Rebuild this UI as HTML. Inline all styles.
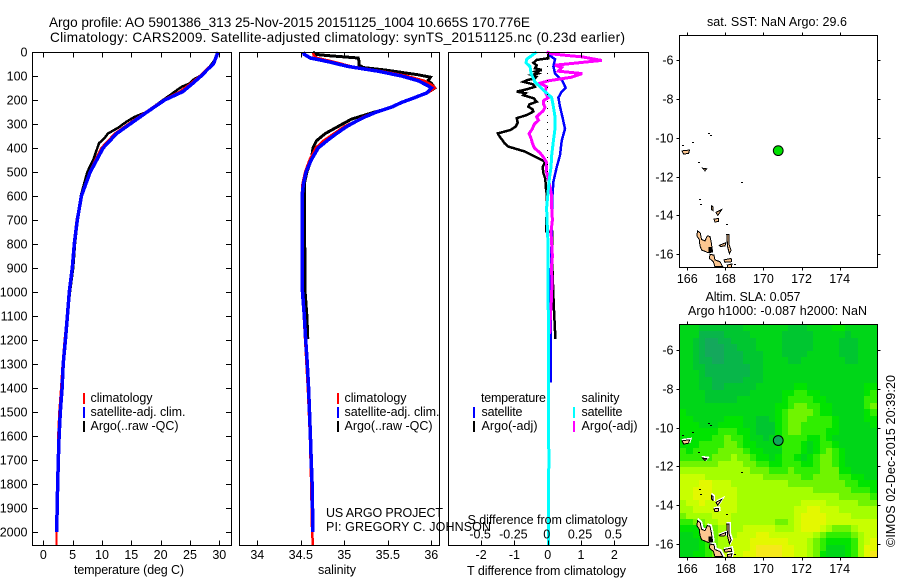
<!DOCTYPE html>
<html>
<head>
<meta charset="utf-8">
<style>
html,body{margin:0;padding:0;background:#fff;width:900px;height:580px;overflow:hidden}
svg{display:block}
text{font-family:"Liberation Sans",sans-serif;font-size:12.5px;fill:#000}
.t{font-size:13.6px}
</style>
</head>
<body>
<svg id="fig" xmlns="http://www.w3.org/2000/svg" width="900" height="580" viewBox="0 0 900 580">
  <text class="t" x="49" y="27" textLength="481" lengthAdjust="spacing">Argo profile: AO 5901386_313 25-Nov-2015 20151125_1004 10.665S 170.776E</text>
  <text class="t" x="50" y="42" textLength="575" lengthAdjust="spacing">Climatology: CARS2009. Satellite-adjusted climatology: synTS_20151125.nc (0.23d earlier)</text>

  <g id="heat"></g>
  <g id="series"></g>
  <g id="axes"></g>
  <g id="islands"></g>

  <text x="74" y="574" textLength="110" lengthAdjust="spacing">temperature (deg C)</text>
  <text x="318" y="574" textLength="38" lengthAdjust="spacing">salinity</text>
  <text x="467" y="575" textLength="159" lengthAdjust="spacing">T difference from climatology</text>
  <text x="467.5" y="524" textLength="160" lengthAdjust="spacing">S difference from climatology</text>

  <g>
    <rect x="83" y="393" width="2" height="11" fill="#f00"/>
    <rect x="83" y="407" width="2" height="11" fill="#00f"/>
    <rect x="83" y="421" width="2" height="11" fill="#000"/>
    <text x="90.5" y="402" textLength="62" lengthAdjust="spacing">climatology</text>
    <text x="90.5" y="416" textLength="95" lengthAdjust="spacing">satellite-adj. clim.</text>
    <text x="90.5" y="430" textLength="88" lengthAdjust="spacing">Argo(..raw -QC)</text>
  </g>
  <g>
    <rect x="337" y="393" width="2" height="11" fill="#f00"/>
    <rect x="337" y="407" width="2" height="11" fill="#00f"/>
    <rect x="337" y="421" width="2" height="11" fill="#000"/>
    <text x="344.5" y="402" textLength="62" lengthAdjust="spacing">climatology</text>
    <text x="344.5" y="416" textLength="95" lengthAdjust="spacing">satellite-adj. clim.</text>
    <text x="344.5" y="430" textLength="88" lengthAdjust="spacing">Argo(..raw -QC)</text>
  </g>
  <g>
    <text x="481" y="402" textLength="65" lengthAdjust="spacing">temperature</text>
    <text x="581.5" y="402" textLength="38" lengthAdjust="spacing">salinity</text>
    <rect x="473" y="407" width="2" height="11" fill="#00f"/>
    <rect x="473" y="421" width="2" height="11" fill="#000"/>
    <rect x="573" y="407" width="2" height="11" fill="#0ff"/>
    <rect x="573" y="421" width="2" height="11" fill="#f0f"/>
    <text x="481.5" y="416" textLength="41" lengthAdjust="spacing">satellite</text>
    <text x="481.5" y="430" textLength="56" lengthAdjust="spacing">Argo(-adj)</text>
    <text x="581.5" y="416" textLength="41" lengthAdjust="spacing">satellite</text>
    <text x="581.5" y="430" textLength="56" lengthAdjust="spacing">Argo(-adj)</text>
  </g>

  <text x="326" y="517" textLength="117" lengthAdjust="spacing">US ARGO PROJECT</text>
  <text x="326" y="531" textLength="165" lengthAdjust="spacing">PI: GREGORY C. JOHNSON</text>

  <text x="707" y="26" textLength="140" lengthAdjust="spacing">sat. SST: NaN Argo: 29.6</text>
  <text x="705.5" y="301" textLength="95" lengthAdjust="spacing">Altim. SLA: 0.057</text>
  <text x="688" y="315" textLength="179" lengthAdjust="spacing">Argo h1000: -0.087 h2000: NaN</text>
  <text transform="translate(895,547) rotate(-90)" textLength="172" lengthAdjust="spacing">©IMOS 02-Dec-2015 20:39:20</text>
</svg>

<script>
// ---- chart data ----
const depthTicks = [0,100,200,300,400,500,600,700,800,900,1000,1100,1200,1300,1400,1500,1600,1700,1800,1900,2000];
const tempTicks = [0,5,10,15,20,25,30];
const salTicks = [34,34.5,35,35.5,36];
const tDiffTicks = [-2,-1,0,1,2];
const sDiffTicks = [-0.5,-0.25,0,0.25,0.5];
const sDiffTickLabels = ['-0.5','-0.25','0','0.25','0.5'];
const lonTicks = [166,168,170,172,174];
const latTicks = [-6,-8,-10,-12,-14,-16];

const tempArgoDepth = [0,30,60,80,100,115,130,145,160,180,200,225,250,270,290,315,340,360,380,415,450,500,600,700,800,900,1000,1100,1195];
const tempArgo = [29.7,29.3,28.4,27.6,26.7,25.6,25,23.6,22.7,21.6,20.4,19,17.6,15.6,14.2,12.8,11,10.4,9.5,9,8.5,7.5,6.4,5.85,5.4,5.1,4.55,4.1,3.7];
const tempClimDepth = [0,50,70,100,130,165,200,250,300,340,400,450,500,600,700,800,900,1000,1100,1200,1300,1400,1500,1600,1700,1800,1900,2000,2054];
const tempClim = [29.7,28.9,27.9,26.7,25.2,23.3,20.5,17.5,14.5,12.2,9.9,8.9,7.9,6.45,5.7,5.2,4.85,4.4,4.05,3.65,3.3,3.05,2.75,2.55,2.5,2.4,2.3,2.25,2.25];
const tempSatDepth = [0,50,70,100,130,165,200,250,300,340,400,450,500,600,700,800,900,1000,1100,1200,1300,1400,1500,1600,1700,1800,1900,2000];
const tempSat = [29.8,29,28.1,26.9,25.5,23.8,20.7,17.7,14.8,12.5,10.2,9.1,8,6.5,5.8,5.28,4.95,4.44,4.1,3.76,3.4,3.2,2.9,2.7,2.55,2.45,2.35,2.3];

const salArgoDepth = [0,10,15,25,40,55,65,75,85,95,105,120,130,150,160,170,190,210,230,250,280,310,340,370,400,450,500,550,600,700,800,900,1000,1100,1195];
const salArgo = [34.64,34.67,34.81,35.16,35.17,35.17,35.22,35.47,35.66,35.85,35.99,35.96,36,36.04,36,35.95,35.81,35.66,35.55,35.35,35.08,34.93,34.78,34.68,34.64,34.62,34.57,34.54,34.54,34.545,34.545,34.55,34.55,34.57,34.58];
const salClimDepth = [0,15,25,40,60,80,100,120,140,150,170,190,210,230,250,270,290,310,340,370,400,450,500,550,600,800,1000,1200,1400,1600,1800,2000,2054];
const salClim = [34.64,34.65,34.69,34.87,35.08,35.43,35.72,35.92,36.02,36.04,35.96,35.81,35.66,35.53,35.36,35.22,35.12,35,34.88,34.76,34.67,34.6,34.55,34.52,34.51,34.51,34.52,34.55,34.58,34.605,34.62,34.63,34.64];
const salSatDepth = [0,10,25,40,60,80,100,120,140,150,170,190,210,230,250,270,290,310,340,370,400,450,500,550,600,800,1000,1100,1200,1300,1400,1500,1600,1700,1800,1900,2000];
const salSat = [34.53,34.54,34.61,34.81,35.04,35.39,35.66,35.85,35.96,36,35.95,35.81,35.66,35.54,35.37,35.24,35.13,35.03,34.91,34.8,34.7,34.62,34.56,34.53,34.515,34.515,34.52,34.54,34.556,34.575,34.59,34.6,34.61,34.62,34.63,34.635,34.64];

const tDiffArgoDepth = [0,12,26,33,45,56,68,75,82,89,96,103,110,117,124,134,145,155,165,172,180,193,207,218,228,238,248,262,276,294,311,325,339,353,367,380,394,415,436,457,480,505,530,561,590,748,749,900,1050,1195];
const tDiffArgo = [0.02,0.02,0.02,-0.33,-0.43,-0.33,-0.38,-0.18,-0.38,-0.28,-0.48,-0.34,-0.38,-0.62,-0.73,-0.45,-0.38,-0.62,-0.93,-0.66,-0.73,-0.42,-0.33,-0.55,-0.58,-0.46,-0.43,-0.62,-0.93,-0.9,-0.96,-1.12,-1.5,-1.44,-1.36,-1.3,-1.18,-0.68,-0.38,-0.08,-0.15,-0.13,-0.07,-0.06,-0.03,-0.04,0.14,0.14,0.18,0.23];
const tDiffSatDepth = [0,15,30,60,90,120,150,165,190,228,270,320,370,430,480,540,600,650,900,1180,1377];
const tDiffSat = [0.02,0.07,0.22,0.17,0.22,0.44,0.54,0.42,0.32,0.37,0.44,0.52,0.42,0.37,0.27,0.17,0.14,0.14,0.1,0.09,0.09];
const sDiffSatDepth = [0,15,30,45,60,90,125,165,190,228,270,320,370,430,480,540,600,650,800,1000,1400,1700,2054];
const sDiffSat = [-0.083,-0.12,-0.158,-0.163,-0.133,-0.125,-0.095,-0.02,0.03,0.043,0.055,0.055,0.043,0.03,0.025,0.01,0,-0.008,0.002,0.004,0.006,0.008,0.005];
const sDiffArgoDepth = [0,8,15,20,35,45,55,65,80,90,105,120,130,145,165,178,190,202,215,230,245,258,270,285,300,320,340,360,380,400,420,440,460,500,540,600,650,700,750,800,850,900,950,1000,1050,1100,1175];
const sDiffArgo = [-0.008,0.03,0.155,0.255,0.405,0.23,0.055,0.105,0.08,0.26,0.18,0.005,-0.058,-0.008,-0.02,-0.01,0.005,-0.03,-0.033,-0.02,-0.033,-0.06,-0.083,-0.07,-0.1,-0.115,-0.14,-0.125,-0.115,-0.1,-0.058,-0.03,-0.008,-0.008,0.01,0.03,0.03,0.035,0.025,0.03,0.035,0.028,0.032,0.03,0.026,0.02,0.015];

// SLA colour level read per 1/3 degree cell, north to south
const slaLevels = [
[3,3,3,2,2,2,2,2,2,2,3,3,3,3,3,3,3,2,2,2,3,3,3,3,4,4,3,3,3,3,3],
[3,3,3,1,1,1,1,2,2,2,2,3,3,3,3,3,2,2,2,2,2,3,3,3,3,3,2,3,3,3,3],
[3,3,2,1,0,0,1,1,2,2,2,2,3,3,3,3,2,2,2,2,2,3,3,3,3,2,2,2,3,3,3],
[3,3,2,1,0,0,0,1,1,2,2,2,3,3,3,3,2,2,2,2,2,3,3,3,3,2,2,2,3,3,3],
[3,3,2,1,0,0,0,1,1,1,2,2,2,3,3,3,2,2,2,2,3,3,3,3,3,2,2,2,3,3,3],
[3,3,2,1,1,0,0,1,1,1,2,2,2,3,3,3,3,2,2,3,3,3,3,3,3,3,2,2,3,3,3],
[3,3,2,2,1,1,1,1,1,1,1,2,2,3,3,3,3,3,3,3,3,3,3,3,3,3,3,3,3,3,3],
[3,3,3,2,1,1,1,1,1,1,1,2,2,3,3,3,3,3,3,3,3,3,3,3,3,3,3,3,3,3,3],
[3,3,3,2,2,1,1,1,1,1,2,2,2,3,3,3,3,3,3,3,3,3,3,3,3,3,3,3,3,3,3],
[3,3,3,2,2,1,1,2,2,2,2,2,3,3,3,3,3,3,4,4,3,3,3,3,3,3,3,3,3,4,4],
[3,3,3,3,2,2,2,2,2,2,2,3,3,3,3,3,4,4,5,5,4,4,3,3,3,3,3,3,3,4,5],
[3,3,3,3,2,2,2,2,2,3,3,3,3,3,3,3,4,5,5,5,5,4,4,3,3,3,3,3,3,5,5],
[3,3,3,3,3,3,3,3,3,3,3,3,3,3,3,4,4,5,6,6,5,5,4,4,3,3,3,3,3,5,6],
[4,3,3,3,3,3,3,3,3,3,3,3,3,3,3,4,5,6,6,6,6,5,4,4,3,3,3,3,3,4,5],
[4,4,3,3,3,3,3,4,4,4,3,3,2,2,3,4,5,6,6,6,5,5,5,5,4,3,3,3,3,4,4],
[4,4,4,3,3,3,4,4,4,4,3,3,2,2,2,4,5,6,6,5,5,5,5,5,4,3,3,3,3,3,4],
[4,4,4,4,4,4,5,5,5,4,4,3,2,2,2,4,5,6,6,5,5,5,5,4,4,3,3,3,3,3,3],
[4,4,4,4,4,5,5,6,5,5,4,3,3,2,3,4,5,5,5,5,4,4,5,4,3,3,3,3,3,3,3],
[4,4,4,5,5,5,5,6,6,5,4,4,3,3,3,4,5,5,5,4,3,4,5,5,4,3,3,3,3,3,3],
[5,4,5,5,5,5,6,6,6,6,5,4,4,3,3,3,5,5,5,4,3,4,5,6,5,4,3,3,3,3,3],
[5,5,5,5,5,6,6,6,7,6,6,5,4,4,3,4,5,5,4,3,4,5,6,6,5,4,3,3,3,3,3],
[6,6,6,6,6,6,7,7,7,7,6,6,5,5,4,4,5,5,5,4,4,5,6,6,5,4,3,3,3,3,3],
[7,7,7,7,7,7,7,7,7,7,7,6,6,6,5,5,5,6,5,5,5,5,6,6,6,4,4,3,3,3,3],
[8,8,8,8,7,7,7,7,7,7,7,7,7,6,6,6,6,6,6,5,5,6,6,6,6,5,5,4,4,3,3],
[8,8,8,9,9,8,8,8,7,7,7,7,7,7,7,7,7,6,6,6,6,6,6,6,6,6,5,5,4,4,4],
[8,8,9,9,9,8,8,8,8,7,7,7,7,7,7,7,7,7,7,7,7,6,6,6,6,6,6,5,5,5,4],
[8,8,9,9,9,8,8,8,8,7,7,7,7,7,7,7,7,7,7,7,7,7,7,7,7,6,6,6,6,6,5],
[7,8,8,9,8,8,8,8,8,7,7,7,7,7,7,7,7,7,7,8,8,8,8,7,7,7,7,7,6,6,6],
[7,7,8,8,8,8,8,8,8,7,7,7,7,7,7,7,7,7,8,8,9,9,8,8,8,7,7,7,7,7,7],
[6,7,7,7,7,8,8,8,7,7,7,7,7,7,7,7,7,7,8,9,9,9,9,8,8,8,8,7,7,7,7],
[5,5,6,6,7,7,8,8,7,7,7,7,7,7,7,6,6,7,8,9,9,9,9,8,8,8,8,8,8,8,8],
[4,4,4,5,6,6,7,7,7,7,8,8,8,8,8,7,7,7,8,9,9,9,8,7,6,6,6,7,8,8,8],
[3,3,4,4,5,6,7,7,7,8,8,8,9,9,8,8,8,8,8,8,8,7,6,5,5,5,5,6,7,8,8],
[3,3,3,4,5,6,7,7,8,8,8,9,9,9,9,9,9,8,8,8,7,6,5,4,4,4,4,5,7,8,9],
[3,3,3,4,5,6,7,7,8,8,8,9,10,10,10,10,9,9,8,8,7,6,5,3,3,3,4,5,7,9,9],
[3,3,4,4,5,6,7,8,8,8,9,9,10,10,10,10,9,9,8,8,7,6,4,3,3,3,4,5,7,9,10]
];
const slaColours = ['#14a85c','#08b64a','#00c630','#00d618','#00e400','#30ee00','#70f400','#a4ff00','#c8ff00','#e4f800','#f6e81a'];
const slaFirstLon = 165.617;
const slaFirstLat = -4.71;
const slaStep = 1/3;

const floatLon = 170.776;
const floatLat = -10.665;

// coastlines as [lon, lat] outlines
const coastPolys = [
[[166.54,-14.80],[166.68,-14.90],[166.75,-15.24],[166.93,-15.31],[167.05,-15.05],[167.19,-15.09],[167.26,-15.40],[167.33,-15.88],[167.10,-15.92],[166.75,-15.78],[166.66,-15.54],[166.63,-15.24],[166.50,-15.05]],
[[167.19,-16.00],[167.40,-16.04],[167.45,-16.29],[167.72,-16.38],[167.86,-16.64],[167.45,-16.64],[167.37,-16.38],[167.16,-16.21]],
[[167.93,-16.29],[168.30,-16.21],[168.33,-16.38],[167.98,-16.41]],
[[168.07,-14.97],[168.18,-14.97],[168.18,-15.45],[168.30,-15.80],[168.21,-15.97],[168.12,-15.63]],
[[167.68,-15.54],[168.03,-15.40],[167.98,-15.57],[167.74,-15.60]],
[[167.40,-14.19],[167.63,-14.16],[167.65,-14.31],[167.45,-14.33]],
[[165.72,-10.68],[166.12,-10.63],[166.07,-10.80],[165.81,-10.85]],
[[166.81,-11.57],[167.02,-11.60],[166.93,-11.70]],
[[168.10,-16.55],[168.35,-16.50],[168.30,-16.68],[168.12,-16.68]],
[[167.27,-13.50],[167.35,-13.55],[167.35,-13.75],[167.28,-13.70]],
[[167.50,-13.85],[167.80,-13.70],[167.60,-14.00]]
];
const coastBlobs = [[167.12,-15.62,167.33,-15.88]];
const coastSpecks = [[165.71,-10.38],[166.26,-10.22],[167.10,-9.78],[167.20,-9.85],[166.54,-11.27],[168.80,-12.30],[166.60,-13.15],[166.68,-13.40],[168.05,-14.45],[168.45,-16.52]];

// ---- scales ----
const svg = document.getElementById('fig');
const NS = 'http://www.w3.org/2000/svg';
const depthY = d => 52 + d * 0.24;
const tempX = t => 43.3 + t * 5.867;
const salX = s => 344.3 + (s - 35) * 87;
const tDiffX = t => 547.7 + t * 33.3;
const sDiffX = s => 547.7 + s * 133.2;
const lonX = l => 687.3 + (l - 166) * 19.04;
const latTopY = l => 60 + (-6 - l) * 19.43;
const latBotY = l => 350 + (-6 - l) * 19.4;

function el(parent, tag, attrs, text) {
  const e = document.createElementNS(NS, tag);
  for (const k in attrs) e.setAttribute(k, attrs[k]);
  if (text !== undefined) e.textContent = text;
  parent.appendChild(e);
  return e;
}

// ---- heatmap ----
const heat = document.getElementById('heat');
slaLevels.forEach((row, r) => {
  row.forEach((v, c) => {
    const x0 = Math.round(lonX(slaFirstLon + c * slaStep));
    const x1 = Math.round(lonX(slaFirstLon + (c + 1) * slaStep));
    const y0 = Math.round(latBotY(slaFirstLat - r * slaStep));
    const y1 = Math.round(latBotY(slaFirstLat - (r + 1) * slaStep));
    const cell = el(heat, 'rect', {x: x0, y: y0, width: x1 - x0, height: y1 - y0, fill: slaColours[Math.max(0, Math.min(10, Math.round(v)))], 'shape-rendering': 'crispEdges'});
    
    
  });
});

// ---- profile lines ----
const series = document.getElementById('series');
function drawLine(xs, depths, xScale, colour, width, name) {
  const pts = xs.map((v, i) => xScale(v).toFixed(1) + ',' + depthY(depths[i]).toFixed(1)).join(' ');
  const line = el(series, 'polyline', {points: pts, fill: 'none', stroke: colour, 'stroke-width': width, 'shape-rendering': 'crispEdges'});
  
  
}
drawLine(tempArgo, tempArgoDepth, tempX, '#000', 2.5, 'temperature-argo-line');
drawLine(tempClim, tempClimDepth, tempX, '#f00', 2.5, 'temperature-climatology-line');
drawLine(tempSat, tempSatDepth, tempX, '#00f', 3.5, 'temperature-satellite-line');
drawLine(salArgo, salArgoDepth, salX, '#000', 3, 'salinity-argo-line');
drawLine(salClim, salClimDepth, salX, '#f00', 2.5, 'salinity-climatology-line');
drawLine(salSat, salSatDepth, salX, '#00f', 3.5, 'salinity-satellite-line');
drawLine(tDiffArgo, tDiffArgoDepth, tDiffX, '#000', 2.5, 't-difference-argo-line');
drawLine(tDiffSat, tDiffSatDepth, tDiffX, '#00f', 2.5, 't-difference-satellite-line');
drawLine(sDiffArgo, sDiffArgoDepth, sDiffX, '#f0f', 3, 's-difference-argo-line');
drawLine(sDiffSat, sDiffSatDepth, sDiffX, '#0ff', 3, 's-difference-satellite-line');
const zero = el(series, 'line', {x1: tDiffX(0), x2: tDiffX(0), y1: depthY(0), y2: depthY(500), stroke: '#000', 'stroke-width': 1, 'stroke-dasharray': '1 6', 'shape-rendering': 'crispEdges'});



// ---- axes ----
const axes = document.getElementById('axes');
function seg(x1, y1, x2, y2, name) {
  const s = el(axes, 'line', {x1: x1, y1: y1, x2: x2, y2: y2, stroke: '#000', 'stroke-width': 1, 'shape-rendering': 'crispEdges'});
  
  
}
function label(x, y, anchor, txt, name) {
  const t = el(axes, 'text', {x: x, y: y, 'text-anchor': anchor}, txt);
  
  
}
function frame(x0, y0, x1, y1, name) {
  const f = el(axes, 'rect', {x: x0, y: y0, width: x1 - x0, height: y1 - y0, fill: 'none', stroke: '#000', 'stroke-width': 1, 'shape-rendering': 'crispEdges'});
  
  
}
function snap(v) { return Math.round(v) + 0.5; }

const TOP = 52.5, BOT = 545.5;
frame(32.5, TOP, 231.5, BOT, 'temperature-plot-frame');
frame(239.5, TOP, 439.5, BOT, 'salinity-plot-frame');
frame(448.5, TOP, 648.5, BOT, 'difference-plot-frame');

depthTicks.forEach(d => {
  const y = snap(depthY(d));
  seg(32.5, y, 38, y, 'depth-tick-left');
  seg(226, y, 231.5, y, 'depth-tick-right');
  label(27.5, y + 4, 'end', String(d), 'depth-tick-label');
});
tempTicks.forEach(t => {
  const x = snap(tempX(t));
  seg(x, TOP, x, TOP + 5, 'temperature-tick-top');
  seg(x, BOT - 5, x, BOT, 'temperature-tick-bottom');
  label(tempX(t), 559, 'middle', String(t), 'temperature-tick-label');
});
salTicks.forEach(s => {
  const x = snap(salX(s));
  seg(x, TOP, x, TOP + 5, 'salinity-tick-top');
  seg(x, BOT - 5, x, BOT, 'salinity-tick-bottom');
  label(salX(s), 559, 'middle', String(s), 'salinity-tick-label');
});
tDiffTicks.forEach(t => {
  const x = snap(tDiffX(t));
  seg(x, TOP, x, TOP + 5, 'difference-tick-top');
  seg(x, BOT - 5, x, BOT, 'difference-tick-bottom');
  label(tDiffX(t), 559, 'middle', String(t), 't-difference-tick-label');
});
sDiffTicks.forEach((s, i) => {
  label(sDiffX(s) - 1, 538.5, 'middle', sDiffTickLabels[i], 's-difference-tick-label');
});

function mapAxes(top, bottom, latY, xLabelY, prefix) {
  frame(679.5, top, 877.5, bottom, prefix + '-map-frame');
  lonTicks.forEach(l => {
    const x = snap(lonX(l));
    seg(x, top - 3, x, top, prefix + '-lon-tick-top');
    seg(x, bottom, x, bottom + 3, prefix + '-lon-tick-bottom');
    label(lonX(l), xLabelY, 'middle', String(l), prefix + '-lon-label');
  });
  latTicks.forEach(l => {
    const y = snap(latY(l));
    seg(676.5, y, 679.5, y, prefix + '-lat-tick-left');
    seg(877.5, y, 880.5, y, prefix + '-lat-tick-right');
    label(673.5, y + 4, 'end', String(l), prefix + '-lat-label');
  });
}
mapAxes(35.5, 267.5, latTopY, 283, 'sst');
mapAxes(324.5, 557.5, latBotY, 573, 'sla');

// ---- islands and float marker ----
const islands = document.getElementById('islands');
function drawCoast(latY, halo) {
  if (halo) {
    coastPolys.forEach(p => {
      const pts = p.map(q => lonX(q[0]).toFixed(1) + ',' + latY(q[1]).toFixed(1)).join(' ');
      const h = el(islands, 'polygon', {points: pts, fill: '#fff', stroke: '#fff', 'stroke-width': 2, transform: 'translate(1,-1)', 'shape-rendering': 'crispEdges'});
      
      
    });
  }
  coastPolys.forEach(p => {
    const pts = p.map(q => lonX(q[0]).toFixed(1) + ',' + latY(q[1]).toFixed(1)).join(' ');
    const g = el(islands, 'polygon', {points: pts, fill: '#fcc690', stroke: '#000', 'stroke-width': 1, 'shape-rendering': 'crispEdges'});
    
    
  });
  coastBlobs.forEach(b => {
    const k = el(islands, 'rect', {x: lonX(b[0]), y: latY(b[1]), width: lonX(b[2]) - lonX(b[0]), height: latY(b[3]) - latY(b[1]), fill: '#000', 'shape-rendering': 'crispEdges'});
    
    
  });
  coastSpecks.forEach(q => {
    const d = el(islands, 'rect', {x: Math.round(lonX(q[0])), y: Math.round(latY(q[1])), width: 2, height: 1, fill: '#000', 'shape-rendering': 'crispEdges'});
    
    
  });
}
drawCoast(latTopY, false);
drawCoast(latBotY, true);

const markerTop = el(islands, 'circle', {cx: lonX(floatLon), cy: latTopY(floatLat), r: 4.9, fill: '#00e000', stroke: '#000', 'stroke-width': 1});


const markerBot = el(islands, 'circle', {cx: lonX(floatLon), cy: latBotY(floatLat), r: 4.9, fill: '#10a858', stroke: '#000', 'stroke-width': 1});


</script>
</body>
</html>
